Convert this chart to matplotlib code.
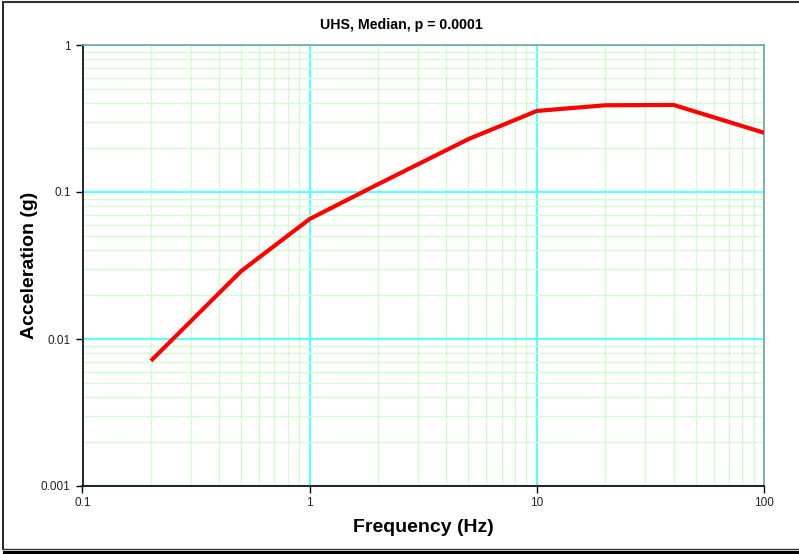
import matplotlib.pyplot as plt
from matplotlib.lines import Line2D
from matplotlib.ticker import LogLocator, FixedLocator, NullFormatter

plt.rcParams['font.family'] = ['Liberation Sans', 'DejaVu Sans']

# UHS median spectrum, p = 0.0001
freq = [0.2, 0.5, 1, 2, 5, 10, 20, 40, 100]
accel = [0.0071, 0.029, 0.0655, 0.113, 0.229, 0.356, 0.389, 0.391, 0.253]

x_ticks = [0.1, 1, 10, 100]
x_labels = ['0.1', '1', '10', '100']
y_ticks = [0.001, 0.01, 0.1, 1]
y_labels = ['0.001', '0.01', '0.1', '1']

W, H = 799, 554
fig = plt.figure(figsize=(W / 100, H / 100), dpi=100)
ax = fig.add_axes([82.5 / W, 1 - 486 / H, (764 - 82.5) / W, (486 - 45) / H])

ax.plot(freq, accel, color='#ff0000', lw=3, solid_capstyle='butt', zorder=5)

ax.set_xscale('log')
ax.set_yscale('log')
ax.set_xlim(0.1, 100)
ax.set_ylim(0.001, 1)
ax.xaxis.set_major_locator(FixedLocator(x_ticks))
ax.yaxis.set_major_locator(FixedLocator(y_ticks))
ax.set_xticklabels(x_labels)
ax.set_yticklabels(y_labels)
ax.xaxis.set_minor_locator(LogLocator(base=10, subs=range(2, 10)))
ax.yaxis.set_minor_locator(LogLocator(base=10, subs=range(2, 10)))
ax.xaxis.set_minor_formatter(NullFormatter())
ax.yaxis.set_minor_formatter(NullFormatter())

ax.grid(which='minor', color='#d4fad4', lw=1, zorder=0)
ax.grid(which='major', color='#60ffff', lw=1.6, zorder=1)
ax.set_axisbelow(True)

ax.tick_params(which='major', direction='out', length=5, width=1, labelsize=8.5,
               colors='black', labelcolor='#222222')
ax.tick_params(axis='x', pad=3)
ax.tick_params(which='minor', length=0)

ax.spines['left'].set_color('black')
ax.spines['bottom'].set_color('black')
ax.spines['top'].set_color('#7fa0a0')
ax.spines['right'].set_color('#7fa0a0')
for s in ax.spines.values():
    s.set_linewidth(1.2)

fig.text(401 / W, 1 - 25 / H, 'UHS, Median, p = 0.0001',
         fontsize=10.2, fontweight='bold', ha='center', va='center')
ax.set_xlabel('Frequency (Hz)', fontsize=14, fontweight='bold', va='center')
ax.set_ylabel('Acceleration (g)', fontsize=14, fontweight='bold', va='center')
ax.xaxis.set_label_coords(0.5, -(528 - 486) / 441)
ax.yaxis.set_label_coords(-(82.5 - 30) / 681.5, 0.5)

# outer chart frame with drop shadow
def px(x, y):
    return x / W, 1 - y / H

fig.add_artist(Line2D(*zip(px(2.5, 1.5), px(2.5, 549)), color='black', lw=1.2))
fig.add_artist(Line2D(*zip(px(2.5, 1.5), px(W, 1.5)), color='#333333', lw=1.5))
fig.add_artist(Line2D(*zip(px(2.5, 549), px(W, 549)), color='#333333', lw=1))
fig.add_artist(Line2D(*zip(px(5, 552.5), px(W, 552.5)), color='black', lw=3))

fig.savefig('out.png', dpi=100)
